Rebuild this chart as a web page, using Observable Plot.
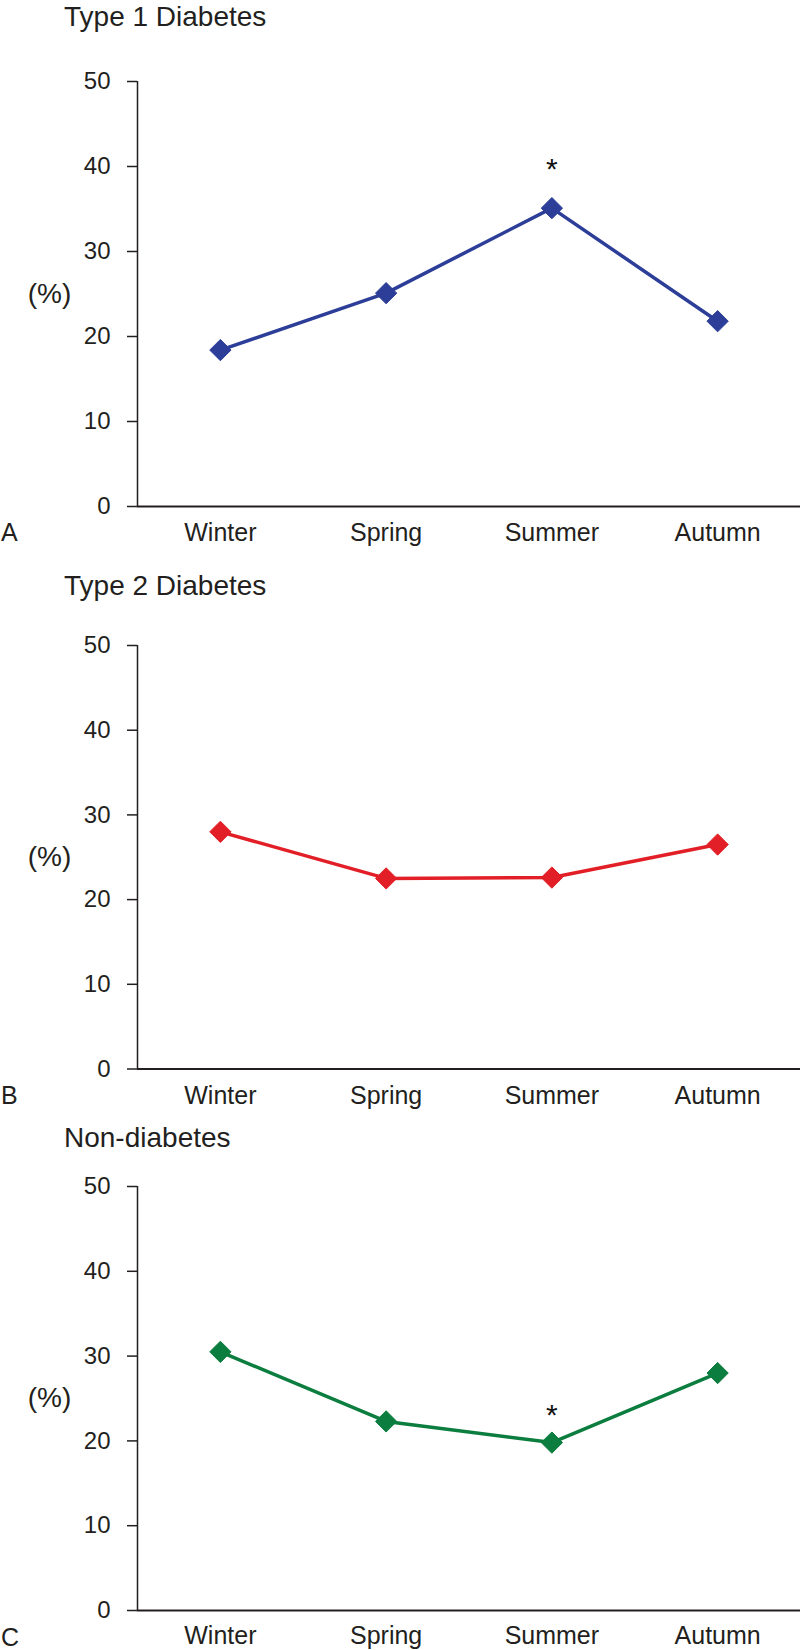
<!DOCTYPE html>
<html>
<head>
<meta charset="utf-8">
<script src="https://cdn.jsdelivr.net/npm/d3@7"></script>
<script src="https://cdn.jsdelivr.net/npm/@observablehq/plot@0.6"></script>
<style>
  html, body { margin: 0; padding: 0; background: #fff; }
  #root { position: relative; width: 800px; height: 1650px; overflow: hidden; font-family: "Liberation Sans", Arial, Helvetica, sans-serif; color: #231f20; }
  .abs { position: absolute; white-space: nowrap; }
  .title { font-size: 28px; line-height: 28px; }
  .letter { font-size: 25px; line-height: 25px; }
</style>
</head>
<body>
<div id="root"></div>
<script>
// ---- data ----
const seasons = ["Winter", "Spring", "Summer", "Autumn"];
const type1 = [18.4, 25.1, 35.1, 21.8];
const type2 = [28.0, 22.5, 22.6, 26.5];
const nonDiabetes = [30.5, 22.3, 19.8, 28.0];
const yTicks = [0, 10, 20, 30, 40, 50];
const panelTitles = ["Type 1 Diabetes", "Type 2 Diabetes", "Non-diabetes"];
const panelLetters = ["A", "B", "C"];
const significant = [["Summer"], [], ["Summer"]];

// ---- layout (pixels) ----
const panels = [
  {values: type1, color: "#2c3e98", top: 0, height: 564, y50: 81, y0: 506, tickPad: 17, titleBase: 26.5, letterBase: 541, starDy: -39},
  {values: type2, color: "#e21f26", top: 564, height: 541, y50: 645, y0: 1068.5, tickPad: 17.5, titleBase: 596, letterBase: 1104, starDy: -33},
  {values: nonDiabetes, color: "#0b7d3e", top: 1105, height: 545, y50: 1186, y0: 1610, tickPad: 16, titleBase: 1148, letterBase: 1646, starDy: -27}
];

const root = document.getElementById("root");

panels.forEach((p, k) => {
  const data = p.values.map((v, i) => ({season: seasons[i], i: i + 1, v}));
  const stars = data.filter(d => significant[k].includes(d.season));
  const marginTop = p.y50 - p.top;
  const marginBottom = p.height - (p.y0 - p.top);

  const chart = Plot.plot({
    width: 800,
    height: p.height,
    marginLeft: 137,
    marginRight: 0,
    marginTop,
    marginBottom,
    style: {fontFamily: '"Liberation Sans", Arial, Helvetica, sans-serif', fontSize: "24px", color: "#231f20", background: "transparent", overflow: "visible"},
    x: {domain: [0.5, 4.5]},
    y: {domain: [0, 50]},
    marks: [
      Plot.axisY({ticks: yTicks, tickSize: 10, tickPadding: 17, label: null, strokeWidth: 1.5}),
      Plot.axisX({ticks: [1, 2, 3, 4], tickFormat: d => seasons[d - 1], tickSize: 0, tickPadding: p.tickPad, label: null, fontSize: 25}),
      Plot.ruleX([0.5], {y1: 0, y2: 50, stroke: "#231f20", strokeWidth: 1.5}),
      Plot.ruleY([0], {stroke: "#231f20", strokeWidth: 2}),
      Plot.text(["(%)"], {frameAnchor: "left", dx: -88, textAnchor: "middle", fontSize: 28, fill: "#231f20"}),
      Plot.line(data, {x: "i", y: "v", stroke: p.color, strokeWidth: 3.5}),
      Plot.dot(data, {x: "i", y: "v", symbol: "diamond2", r: 9.6, fill: p.color, stroke: p.color, strokeWidth: 1}),
      Plot.text(stars, {x: "i", y: "v", text: () => "*", dy: p.starDy, fontSize: 30, fill: "#111", lineAnchor: "middle"})
    ]
  });
  chart.style.position = "absolute";
  chart.style.left = "0px";
  chart.style.top = p.top + "px";
  root.appendChild(chart);

  const t = document.createElement("div");
  t.className = "abs title";
  t.textContent = panelTitles[k];
  t.style.left = "64px";
  t.style.top = (p.titleBase - 0.8465 * 28) + "px";
  root.appendChild(t);

  const l = document.createElement("div");
  l.className = "abs letter";
  l.textContent = panelLetters[k];
  l.style.left = "1px";
  l.style.top = (p.letterBase - 0.8465 * 25) + "px";
  root.appendChild(l);
});
</script>
</body>
</html>
